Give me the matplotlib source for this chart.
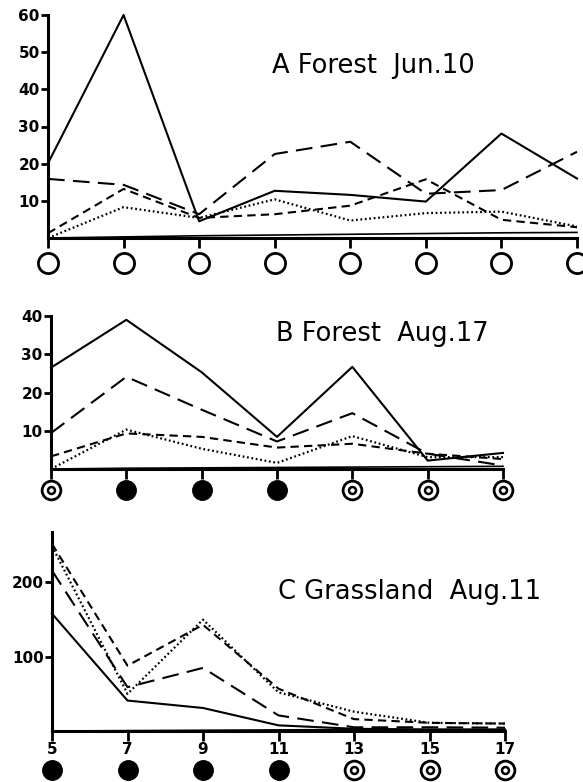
import numpy as np
import matplotlib.pyplot as plt
from matplotlib import transforms

W, H = 583, 782

# panel A: Forest Jun.10, 8 stations
a_solid = [20.1, 60, 4.5, 12.7, 11.6, 9.8, 28.1, 16]
a_long = [15.9, 14.3, 6.4, 22.6, 25.9, 11.9, 12.9, 23.2]
a_short = [1.3, 13.2, 5.4, 6.4, 8.7, 15.8, 4.9, 2.9]
a_dot = [0, 8.3, 5.4, 10.4, 4.7, 6.7, 7.1, 3.1]
a_base = [0, 0.3, 0.6, 0.8, 1.0, 1.2, 1.4, 1.5]
a_marks = ["open"] * 8

# panel B: Forest Aug.17, 7 stations
b_solid = [26.5, 39, 25.3, 8.4, 26.7, 2.2, 4.2]
b_long = [9.4, 24.1, 15.5, 7.2, 14.6, 4.0, 0.9]
b_short = [3.3, 9.3, 8.4, 5.6, 6.6, 4.0, 2.6]
b_dot = [0, 10.3, 5.3, 1.6, 8.6, 3.1, 3.1]
b_base = [0, 0.2, 0.3, 0.4, 0.5, 0.6, 0.7]
b_marks = ["ring", "full", "full", "full", "ring", "ring", "ring"]

# panel C: Grassland Aug.11, hours 5..17
c_hours = [5, 7, 9, 11, 13, 15, 17]
c_solid = [158, 41, 31, 7.6, 3, 2, 2]
c_long = [216, 59, 85, 21, 5, 5, 4.5]
c_short = [252, 88, 143, 57, 16, 11, 10]
c_dot = [249, 50, 150, 52, 26, 11, 10]
c_base = [0, 0.5, 1, 1.5, 2, 2, 2]
c_marks = ["full", "full", "full", "full", "ring", "ring", "ring"]

fig = plt.figure(figsize=(W / 100, H / 100), dpi=100)


def make_axes(left, right, top, bottom):
    return fig.add_axes([left / W, 1 - bottom / H, (right - left) / W, (bottom - top) / H])


def draw_panel(ax, x, series, base, ymax, yticks, title, tx, ty, marks, mark_off):
    ax.plot(x, series[0], color="black", lw=1.5, clip_on=False)
    ax.plot(x, series[1], color="black", lw=1.5, dashes=(8, 4), clip_on=False)
    ax.plot(x, series[2], color="black", lw=1.5, dashes=(4, 2.5), clip_on=False)
    ax.plot(x, series[3], color="black", lw=1.6, dashes=(0.8, 1.2), clip_on=False)
    ax.plot(x, base, color="black", lw=1.2, clip_on=False)
    ax.set_xlim(x[0], x[-1])
    ax.set_ylim(0, ymax)
    for s in ["top", "right"]:
        ax.spines[s].set_visible(False)
    for s in ["left", "bottom"]:
        ax.spines[s].set_linewidth(2.2)
    ax.set_yticks(yticks)
    ax.set_yticklabels([str(t) for t in yticks], fontsize=11, fontweight="bold")
    ax.tick_params(axis="y", length=5, width=2, pad=1)
    ax.tick_params(axis="x", length=7, width=2)
    ax.set_xticks(x)
    ax.set_xticklabels([])
    ax.text(tx / W, 1 - ty / H, title, transform=fig.transFigure, fontsize=18.5,
            ha="left", va="center", family="DejaVu Sans")
    trans = transforms.offset_copy(ax.get_xaxis_transform(), fig=fig, y=-mark_off, units="dots")
    for xi, m in zip(x, marks):
        if m == "open":
            ax.plot(xi, 0, "o", ms=14.5, mfc="white", mec="black", mew=2, transform=trans, clip_on=False)
        elif m == "full":
            ax.plot(xi, 0, "o", ms=14, mfc="black", mec="black", mew=1, transform=trans, clip_on=False)
        else:
            ax.plot(xi, 0, "o", ms=13.5, mfc="white", mec="black", mew=2, transform=trans, clip_on=False)
            ax.plot(xi, 0, "o", ms=5, mfc="white", mec="black", mew=1.8, transform=trans, clip_on=False)


axA = make_axes(48, 577, 15, 238)
draw_panel(axA, list(range(8)), [a_solid, a_long, a_short, a_dot], a_base, 60,
           [10, 20, 30, 40, 50, 60], "A Forest  Jun.10", 272, 66, a_marks, 25)

axB = make_axes(51, 503, 316, 469)
draw_panel(axB, list(range(7)), [b_solid, b_long, b_short, b_dot], b_base, 40,
           [10, 20, 30, 40], "B Forest  Aug.17", 276, 334, b_marks, 21)

axC = make_axes(52, 505, 532, 731)
draw_panel(axC, c_hours, [c_solid, c_long, c_short, c_dot], c_base, 268,
           [100, 200], "C Grassland  Aug.11", 278, 592, c_marks, 39)
axC.set_xticklabels([str(h) for h in c_hours], fontsize=11, fontweight="bold")
axC.tick_params(axis="x", pad=1)

fig.savefig("out.png", dpi=100)
